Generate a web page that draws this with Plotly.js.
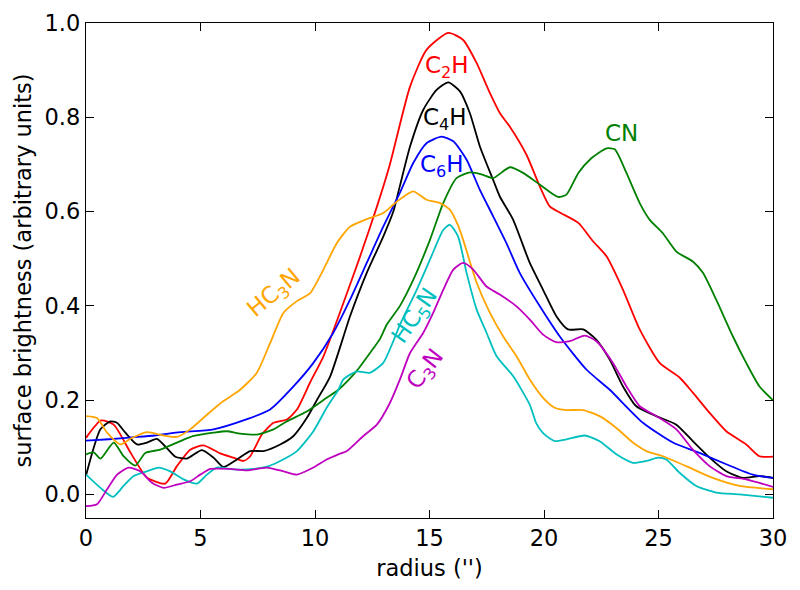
<!DOCTYPE html>
<html>
<head>
<meta charset="utf-8">
<script src="https://cdn.plot.ly/plotly-3.0.1.min.js"></script>
<style>html,body{margin:0;padding:0;background:#fff;}</style>
</head>
<body>
<div id="chart" style="width:800px;height:590px;"></div>
<script>
// C2H (red)
const c2hX = [0, 0.66, 1.21, 1.94, 2.66, 3.46, 3.97, 4.55, 5.13, 5.86, 6.43, 6.87, 7.17, 7.68, 8.19, 8.77, 9.21, 9.79, 10.37, 11.24, 11.97, 12.7, 13.27, 14.15, 14.87, 15.82, 16.47, 17.06, 17.64, 18.07, 18.51, 19.24, 19.82, 20.25, 20.69, 21.5, 22.14, 22.73, 23.45, 24.18, 25.05, 25.92, 26.5, 27.23, 27.96, 28.83, 29.41, 30];
const c2hY = [0.12, 0.157, 0.148, 0.089, 0.036, 0.023, 0.06, 0.095, 0.104, 0.087, 0.078, 0.071, 0.081, 0.127, 0.152, 0.159, 0.18, 0.238, 0.293, 0.406, 0.505, 0.61, 0.70, 0.865, 0.943, 0.979, 0.964, 0.915, 0.851, 0.809, 0.78, 0.72, 0.653, 0.611, 0.598, 0.576, 0.537, 0.505, 0.434, 0.35, 0.279, 0.248, 0.216, 0.173, 0.134, 0.106, 0.081, 0.08];
// C4H (black)
const c4hX = [0, 0.63, 1.06, 1.35, 1.72, 2.23, 2.66, 3.1, 3.46, 3.9, 4.41, 5.06, 5.57, 6.0, 6.59, 7.17, 7.75, 8.48, 9.06, 9.64, 10.08, 10.66, 11.53, 12.26, 12.98, 13.42, 13.71, 14.15, 14.73, 15.31, 15.82, 16.33, 16.76, 17.2, 17.78, 18.07, 18.65, 19.38, 19.96, 20.54, 21.05, 21.71, 22.29, 22.87, 23.45, 24.03, 24.91, 25.78, 26.5, 27.23, 27.96, 28.68, 29.41, 30];
const c4hY = [0.04, 0.138, 0.155, 0.152, 0.131, 0.106, 0.110, 0.118, 0.102, 0.080, 0.076, 0.094, 0.078, 0.058, 0.074, 0.092, 0.092, 0.106, 0.124, 0.162, 0.2, 0.25, 0.378, 0.47, 0.547, 0.60, 0.655, 0.738, 0.816, 0.858, 0.874, 0.855, 0.809, 0.738, 0.667, 0.632, 0.583, 0.491, 0.434, 0.378, 0.35, 0.35, 0.328, 0.286, 0.229, 0.187, 0.166, 0.148, 0.113, 0.078, 0.049, 0.035, 0.039, 0.035];
// C6H (blue)
const c6hX = [0, 1, 2, 3, 4.12, 5.57, 7.0, 8.04, 9.06, 9.93, 10.8, 11.53, 12.26, 12.98, 13.71, 14.29, 14.87, 15.53, 16.04, 16.62, 17.2, 17.78, 18.36, 18.94, 19.82, 20.69, 21.85, 22.87, 24.32, 25.63, 26.79, 27.96, 29.12, 30];
const c6hY = [0.114, 0.117, 0.121, 0.125, 0.132, 0.138, 0.159, 0.18, 0.229, 0.279, 0.343, 0.413, 0.491, 0.568, 0.64, 0.703, 0.745, 0.759, 0.749, 0.710, 0.646, 0.59, 0.533, 0.47, 0.399, 0.335, 0.265, 0.222, 0.152, 0.110, 0.088, 0.064, 0.042, 0.035];
// CN (green)
const cnX = [0, 0.34, 0.63, 1.21, 1.64, 2.15, 2.59, 3.24, 3.97, 4.7, 5.57, 6.15, 6.73, 7.46, 8.19, 8.77, 9.64, 10.51, 11.02, 11.82, 12.55, 12.84, 13.13, 13.71, 14.29, 15.02, 15.6, 16.18, 16.76, 17.34, 17.78, 18.51, 19.09, 19.82, 20.61, 20.98, 21.5, 22.0, 22.73, 23.09, 23.6, 24.18, 24.61, 25.19, 25.78, 26.5, 26.94, 27.52, 28.25, 28.83, 29.41, 30];
const cnY = [0.085, 0.089, 0.076, 0.110, 0.081, 0.061, 0.088, 0.095, 0.11, 0.124, 0.131, 0.134, 0.129, 0.127, 0.138, 0.155, 0.176, 0.205, 0.222, 0.262, 0.31, 0.33, 0.36, 0.40, 0.455, 0.54, 0.618, 0.671, 0.683, 0.678, 0.671, 0.694, 0.682, 0.657, 0.631, 0.636, 0.682, 0.71, 0.734, 0.732, 0.682, 0.618, 0.583, 0.554, 0.515, 0.494, 0.47, 0.413, 0.335, 0.279, 0.229, 0.2];
// HC3N (orange)
const hc3nX = [0, 0.48, 0.92, 1.5, 1.94, 2.66, 3.39, 3.97, 4.55, 5.28, 6.0, 6.73, 7.46, 8.04, 8.62, 9.21, 9.79, 10.37, 10.95, 11.53, 12.26, 12.98, 13.57, 14.29, 14.87, 15.46, 15.89, 16.25, 16.47, 17.06, 17.64, 18.22, 18.8, 19.38, 19.96, 20.47, 20.98, 21.71, 22.43, 23.16, 23.88, 24.47, 25.19, 26.21, 27.37, 28.54, 30];
const hc3nY = [0.166, 0.162, 0.131, 0.106, 0.118, 0.132, 0.125, 0.122, 0.138, 0.169, 0.198, 0.222, 0.258, 0.321, 0.385, 0.41, 0.427, 0.477, 0.533, 0.568, 0.584, 0.597, 0.621, 0.643, 0.625, 0.618, 0.604, 0.57, 0.54, 0.449, 0.385, 0.335, 0.293, 0.244, 0.205, 0.184, 0.179, 0.179, 0.166, 0.141, 0.11, 0.092, 0.081, 0.06, 0.035, 0.018, 0.011];
// HC5N (cyan)
const hc5nX = [0, 0.63, 1.18, 1.64, 2.08, 2.66, 3.17, 3.68, 4.26, 4.85, 5.28, 5.72, 6.44, 7.31, 7.9, 8.48, 9.21, 9.93, 10.51, 11.02, 11.24, 11.82, 12.4, 12.98, 13.42, 13.71, 14.44, 15.02, 15.6, 15.89, 16.25, 16.62, 17.06, 17.49, 17.93, 18.65, 19.38, 19.67, 19.96, 20.47, 20.98, 21.78, 22.43, 23.16, 23.88, 24.47, 24.98, 25.34, 25.92, 26.65, 27.52, 28.54, 30];
const hc5nY = [0.042, 0.014, -0.005, 0.018, 0.039, 0.049, 0.057, 0.049, 0.032, 0.023, 0.042, 0.057, 0.053, 0.054, 0.059, 0.071, 0.092, 0.134, 0.184, 0.222, 0.244, 0.261, 0.258, 0.279, 0.325, 0.36, 0.434, 0.498, 0.561, 0.572, 0.547, 0.47, 0.392, 0.343, 0.293, 0.251, 0.19, 0.15, 0.13, 0.113, 0.117, 0.125, 0.113, 0.085, 0.067, 0.071, 0.078, 0.074, 0.046, 0.018, 0.004, 0.0, -0.007];
// C3N (magenta)
const c3nX = [0, 0.48, 0.92, 1.36, 1.86, 2.37, 2.88, 3.39, 3.97, 4.55, 4.99, 5.43, 6.3, 7.03, 7.9, 8.62, 9.21, 9.93, 10.51, 11.02, 11.39, 12.11, 12.7, 13.27, 13.71, 14.15, 14.73, 15.16, 15.6, 16.04, 16.47, 16.91, 17.49, 18.07, 18.8, 19.38, 19.96, 20.54, 21.13, 21.78, 22.29, 23.01, 23.6, 24.18, 24.91, 25.78, 26.5, 27.23, 27.96, 28.83, 30];
const c3nY = [-0.025, -0.021, 0.011, 0.042, 0.057, 0.049, 0.025, 0.014, 0.021, 0.028, 0.042, 0.054, 0.054, 0.051, 0.057, 0.049, 0.042, 0.057, 0.074, 0.085, 0.092, 0.124, 0.148, 0.194, 0.244, 0.3, 0.343, 0.385, 0.434, 0.477, 0.491, 0.477, 0.441, 0.424, 0.399, 0.371, 0.339, 0.323, 0.325, 0.337, 0.325, 0.279, 0.229, 0.187, 0.166, 0.138, 0.095, 0.06, 0.039, 0.032, 0.016];

const xTicks = [0, 5, 10, 15, 20, 25, 30];
const yTicks = [0.0, 0.2, 0.4, 0.6, 0.8, 1.0];

const labelText = ['C<sub>2</sub>H', 'C<sub>4</sub>H', 'C<sub>6</sub>H', 'CN', 'HC<sub>3</sub>N', 'HC<sub>5</sub>N', 'C<sub>3</sub>N'];
const labelX = [15.76, 15.68, 15.54, 23.4, 8.22, 14.41, 14.84];
const labelY = [0.907, 0.797, 0.697, 0.767, 0.426, 0.379, 0.265];
const labelAngle = [0, 0, 0, 0, -40, -55, -52];

const series = [
  {x: c2hX, y: c2hY, c: '#ff0000'},
  {x: c4hX, y: c4hY, c: '#000000'},
  {x: c6hX, y: c6hY, c: '#0000ff'},
  {x: cnX, y: cnY, c: '#008000'},
  {x: hc3nX, y: hc3nY, c: '#ffa500'},
  {x: hc5nX, y: hc5nY, c: '#00bfbf'},
  {x: c3nX, y: c3nY, c: '#bf00bf'}
];

const traces = series.map(s => ({
  x: s.x, y: s.y, type: 'scatter', mode: 'lines',
  line: {color: s.c, width: 1.8, shape: 'spline', smoothing: 0.6},
  showlegend: false, hoverinfo: 'skip'
}));

const font = {family: 'DejaVu Sans, sans-serif', size: 22.5, color: '#000'};

const annotations = labelText.map((t, i) => ({
  x: labelX[i], y: labelY[i], xref: 'x', yref: 'y', text: t,
  showarrow: false, textangle: labelAngle[i],
  font: {family: 'DejaVu Sans, sans-serif', size: 23, color: series[i].c}
}));

const axisCommon = {
  showline: true, linecolor: '#000', linewidth: 1.2, mirror: 'allticks',
  ticks: 'inside', ticklen: 8, tickwidth: 1, tickcolor: '#000',
  showgrid: false, zeroline: false, tickfont: font
};

const layout = {
  width: 800, height: 590,
  margin: {l: 86, r: 27, t: 23, b: 72},
  paper_bgcolor: '#fff', plot_bgcolor: '#fff',
  font: font,
  xaxis: Object.assign({}, axisCommon, {
    range: [0, 30], tickvals: xTicks, ticktext: xTicks.map(String),
    title: {text: "radius ('')", font: font, standoff: 10}
  }),
  yaxis: Object.assign({}, axisCommon, {
    range: [-0.05, 1.0], tickvals: yTicks, ticktext: yTicks.map(v => v.toFixed(1)),
    title: {text: 'surface brightness (arbitrary units)', font: font, standoff: 6}
  }),
  annotations: annotations
};

Plotly.newPlot('chart', traces, layout, {displayModeBar: false, staticPlot: true});
</script>
</body>
</html>
